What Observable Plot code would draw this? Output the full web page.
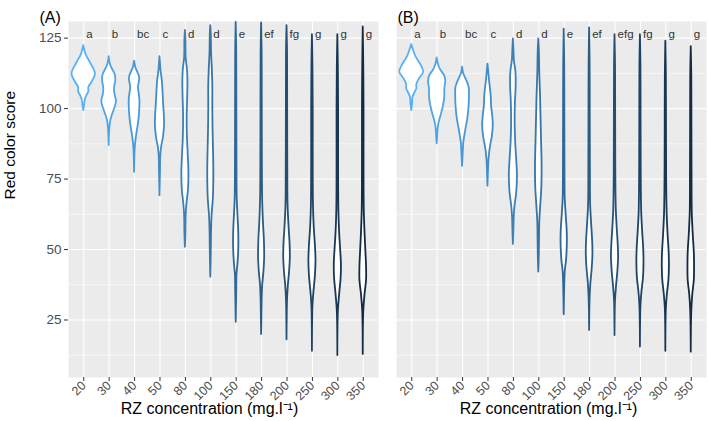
<!DOCTYPE html>
<html>
<head>
<meta charset="utf-8">
<script src="https://cdn.jsdelivr.net/npm/d3@7"></script>
<script src="https://cdn.jsdelivr.net/npm/@observablehq/plot@0.6"></script>
<style>
  html, body { margin: 0; padding: 0; background: #fff; }
  #chart { width: 709px; height: 421px; }
</style>
</head>
<body>
<div id="chart"></div>
<script>
// ---- data ----
const concentrations = ["20","30","40","50","80","100","150","180","200","250","300","350"];
const lettersA = ["a","b","bc","c","d","d","e","ef","fg","g","g","g"];
const lettersB = ["a","b","bc","c","d","d","e","ef","efg","fg","g","g"];
const letterScore = 126.2;
const outlineColors = ["#56B1F7","#50A5E7","#4A99D6","#448CC6","#3E80B6","#3874A5",
                       "#316895","#2B5C84","#255074","#1F4364","#193753","#132B43"];

// violin profiles: [red color score, half-width in category units]
const violinsA = [
  [[122.3,0],[120.5,0.05],[119,0.1],[116,0.28],[112.3,0.46],[109,0.3],[107.5,0.2],[106,0.2],[104.5,0.12],[103,0.06],[101,0.03],[99.3,0]],
  [[118.4,0],[116,0.04],[114.5,0.1],[112,0.24],[110,0.26],[107,0.21],[105,0.23],[102.5,0.29],[100,0.22],[97.5,0.12],[95.5,0.06],[92,0.02],[86.9,0]],
  [[116.8,0],[114.5,0.05],[113,0.12],[111,0.2],[109,0.18],[107.5,0.15],[105.5,0.18],[103,0.21],[99,0.2],[95,0.16],[91,0.09],[87.5,0.04],[85,0.02],[77.4,0]],
  [[118.4,0],[116,0.02],[113.5,0.04],[110,0.09],[106,0.12],[102,0.14],[98,0.17],[94,0.18],[90,0.14],[86,0.06],[83,0.03],[78,0.02],[69.1,0]],
  [[127.7,0],[124,0.02],[118,0.03],[114,0.08],[110,0.1],[104,0.09],[97,0.07],[90,0.08],[84,0.11],[77,0.14],[71,0.12],[66,0.06],[62,0.03],[56,0.02],[50.8,0]],
  [[129.4,0],[126,0.02],[120,0.03],[114,0.06],[108,0.08],[100,0.08],[92,0.09],[84,0.11],[76,0.12],[68,0.1],[62,0.05],[57,0.03],[50,0.02],[40.2,0]],
  [[130.6,0],[120,0.02],[100,0.025],[80,0.03],[68,0.04],[62,0.07],[56,0.1],[50,0.1],[45,0.07],[41,0.03],[35,0.02],[24.2,0]],
  [[130.4,0],[120,0.02],[100,0.025],[80,0.03],[68,0.04],[60,0.07],[53,0.11],[47,0.12],[42,0.09],[37,0.04],[32,0.02],[19.9,0]],
  [[129.4,0],[120,0.02],[100,0.025],[80,0.03],[66,0.04],[58,0.08],[52,0.12],[47,0.13],[42,0.1],[37,0.05],[32,0.02],[18,0]],
  [[126.2,0],[115,0.02],[100,0.03],[80,0.03],[66,0.04],[58,0.07],[51,0.12],[46,0.14],[41,0.12],[35,0.06],[30,0.02],[13.9,0]],
  [[126.2,0],[115,0.02],[100,0.03],[80,0.03],[64,0.04],[56,0.07],[50,0.11],[45,0.14],[40,0.13],[34,0.07],[28,0.02],[12.4,0]],
  [[129,0],[115,0.02],[100,0.03],[80,0.03],[64,0.04],[56,0.07],[50,0.1],[44,0.13],[39,0.13],[34,0.07],[28,0.02],[12.8,0]]
];
const violinsB = [
  [[122.7,0],[121,0.06],[118.5,0.16],[115.5,0.36],[112.9,0.47],[110.5,0.3],[108.5,0.2],[107,0.2],[105.5,0.12],[104,0.05],[101.5,0.03],[99.3,0]],
  [[118,0],[116,0.04],[114,0.12],[111.5,0.3],[109.5,0.34],[107,0.3],[104,0.3],[101,0.25],[98,0.17],[95.5,0.09],[93,0.04],[90,0.02],[87.5,0]],
  [[114.7,0],[112.5,0.04],[110,0.16],[107.5,0.26],[104,0.27],[100,0.25],[96,0.2],[92,0.12],[88,0.05],[85,0.03],[79.5,0]],
  [[115.8,0],[113,0.03],[110,0.06],[107,0.1],[104,0.13],[101,0.14],[98,0.18],[94,0.21],[90,0.17],[86,0.09],[82,0.04],[78,0.02],[72.5,0]],
  [[124.7,0],[121,0.02],[117,0.04],[113,0.1],[108,0.11],[102,0.08],[95,0.07],[88,0.09],[82,0.13],[76,0.16],[70,0.13],[65,0.06],[61,0.03],[57,0.02],[51.8,0]],
  [[124.7,0],[121,0.02],[112,0.04],[104,0.07],[96,0.09],[88,0.11],[80,0.13],[72,0.12],[66,0.08],[60,0.04],[55,0.03],[48,0.02],[42,0]],
  [[128.2,0],[115,0.02],[95,0.025],[78,0.03],[68,0.04],[62,0.08],[56,0.12],[51,0.12],[46,0.09],[42,0.04],[37,0.02],[26.9,0]],
  [[128.6,0],[115,0.02],[95,0.025],[78,0.03],[66,0.04],[59,0.08],[53,0.12],[48,0.13],[43,0.1],[38,0.05],[33,0.02],[21.3,0]],
  [[126.2,0],[115,0.02],[95,0.025],[78,0.03],[64,0.05],[57,0.09],[51,0.13],[47,0.14],[42,0.11],[37,0.06],[32,0.02],[19.5,0]],
  [[126.2,0],[115,0.02],[95,0.025],[78,0.03],[63,0.05],[56,0.09],[50,0.13],[45,0.14],[40,0.12],[35,0.06],[30,0.02],[15.4,0]],
  [[123.9,0],[112,0.02],[95,0.025],[78,0.03],[63,0.05],[55,0.09],[49,0.13],[44,0.14],[39,0.12],[34,0.06],[29,0.02],[13.9,0]],
  [[122,0],[112,0.02],[95,0.025],[78,0.03],[63,0.04],[55,0.08],[49,0.12],[44,0.13],[39,0.12],[34,0.06],[28,0.02],[13.6,0]]
];
const yTicks = [25, 50, 75, 100, 125];
const yMinorTicks = [12.5, 37.5, 62.5, 87.5, 112.5];
const yTitle = "Red color score";
const xTitle = "RZ concentration (mg.l\u207B\u00B9)";

// ---- build tables ----
const rows = [];
[["A", violinsA], ["B", violinsB]].forEach(([panel, vs]) => {
  vs.forEach((prof, i) => {
    prof.forEach(([score, w]) => rows.push({panel, i, group: panel + i, score, w}));
  });
});
const letterRows = [];
lettersA.forEach((t, i) => letterRows.push({panel: "A", i, t}));
lettersB.forEach((t, i) => letterRows.push({panel: "B", i, t}));
const idx = concentrations.map((_, i) => i);

const font = "'Liberation Sans', Arial, Helvetica, sans-serif";

const chart = Plot.plot({
  width: 709,
  height: 421,
  marginLeft: 67,
  marginRight: 2,
  marginTop: 21,
  marginBottom: 44,
  style: {fontFamily: font, background: "white"},
  fx: {domain: ["A", "B"], paddingInner: 0.0547, paddingOuter: 0, axis: null, label: null},
  x: {domain: [-0.6, 11.6]},
  y: {domain: [4.6, 130.9]},
  marks: [
    Plot.frame({fill: "#EBEBEB", stroke: null}),
    Plot.gridY({ticks: yMinorTicks, stroke: "white", strokeOpacity: 1, strokeWidth: 0.55}),
    Plot.gridY({ticks: yTicks, stroke: "white", strokeOpacity: 1, strokeWidth: 1.1}),
    Plot.gridX({ticks: idx, stroke: "white", strokeOpacity: 1, strokeWidth: 1.1}),
    Plot.areaX(rows, {
      fx: "panel", z: "group", y: "score",
      x1: d => d.i - d.w, x2: d => d.i + d.w,
      fill: "white", stroke: d => outlineColors[d.i], strokeWidth: 1.8,
      curve: "catmull-rom"
    }),
    Plot.text(letterRows, {
      fx: "panel", x: d => d.i + 0.1, y: () => letterScore, text: "t",
      textAnchor: "start", fontSize: 11.5, fill: "#333"
    }),
    Plot.axisY({ticks: yTicks, tickSize: 4, tickPadding: 3, stroke: "#333", fill: "#4D4D4D",
                fontSize: 13.5, label: null}),
    Plot.axisX({ticks: idx, tickFormat: i => concentrations[i], tickSize: 4, tickPadding: 2,
                tickRotate: -45, stroke: "#333", fill: "#4D4D4D", fontSize: 12.5, label: null}),
    Plot.text([{panel: "A", t: yTitle}], {fx: "panel", text: "t", frameAnchor: "left",
                dx: -58, rotate: -90, fontSize: 15.5, fill: "black"}),
    Plot.text([{panel: "A", t: xTitle}], {fx: "panel", text: "t", frameAnchor: "bottom",
                dx: -14, dy: 36, fontSize: 16, fill: "black"}),
    Plot.text([{panel: "B", t: xTitle}], {fx: "panel", text: "t", frameAnchor: "bottom",
                dx: -3, dy: 36, fontSize: 16, fill: "black"}),
    Plot.text([{panel: "A", t: "(A)"}], {fx: "panel", text: "t", frameAnchor: "top-left",
                textAnchor: "start", dx: -29, dy: -10, fontSize: 16, fill: "black"}),
    Plot.text([{panel: "B", t: "(B)"}], {fx: "panel", text: "t", frameAnchor: "top-left",
                textAnchor: "start", dx: 1, dy: -10, fontSize: 16, fill: "black"})
  ]
});
document.getElementById("chart").appendChild(chart);
</script>
</body>
</html>
